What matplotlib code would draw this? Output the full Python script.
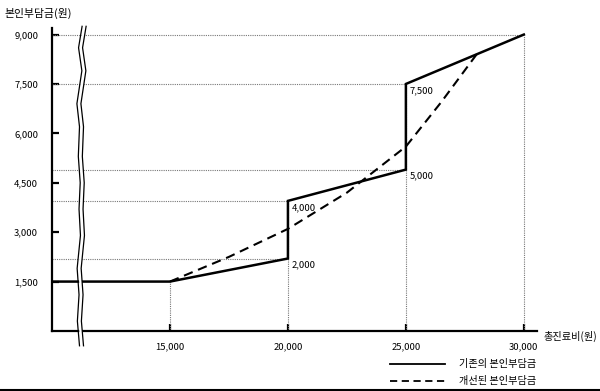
import numpy as np
import matplotlib
matplotlib.use("Agg")
import matplotlib.pyplot as plt
from matplotlib.lines import Line2D

plt.rcParams['font.family'] = ['Noto Sans CJK KR', 'DejaVu Sans']

# current co-payment (solid)
old_x = [10000, 15000, 20000, 20000, 25000, 25000, 30000]
old_y = [1500, 1500, 2200, 3950, 4900, 7500, 9000]
# improved co-payment (dashed)
new_x = [15000, 17500, 20000, 22500, 25000, 26500, 28000]
new_y = [1500, 2250, 3100, 4200, 5600, 6950, 8400]

yticks = [1500, 3000, 4500, 6000, 7500, 9000]
xticks = [15000, 20000, 25000, 30000]
# guide lines: (x of point, y of point)
hguides = [(30000, 9000), (25000, 7500), (25000, 4900), (20000, 3950), (20000, 2200)]
vguides = [(15000, 1500), (20000, 3950), (25000, 7500), (30000, 9000)]
point_labels = [(20000, 2200, "2,000"), (20000, 3950, "4,000"),
                (25000, 4900, "5,000"), (25000, 7500, "7,500")]

fig = plt.figure(figsize=(6, 3.91), dpi=100)
ax = fig.add_axes([0.0867, 0.1535, 0.808, 0.775])

for x, y in hguides:
    ax.plot([10000, x], [y, y], ls=(0, (1, 1)), color='#777777', lw=0.8)
for x, y in vguides:
    ax.plot([x, x], [0, y], ls=(0, (1, 1)), color='#777777', lw=0.8)

ax.plot(old_x, old_y, color='black', lw=1.8, solid_joinstyle='miter')
ax.plot(new_x, new_y, color='black', lw=1.5, ls=(0, (4.5, 2.8)))

for x, y, s in point_labels:
    ax.text(x + 150, y - 60, s, fontsize=6.8, va='top', ha='left')

ax.set_xlim(10000, 30550)
ax.set_ylim(0, 9200)
for side in ['top', 'right']:
    ax.spines[side].set_visible(False)
for side in ['left', 'bottom']:
    ax.spines[side].set_linewidth(1.6)
ax.set_xticks(xticks)
ax.set_xticklabels([f"{v:,}" for v in xticks])
ax.set_yticks(yticks)
ax.set_yticklabels([f"{v:,}" for v in yticks])
ax.tick_params(direction='in', length=5, width=1.6, labelsize=6.8, pad=8)
ax.tick_params(axis='y', pad=10)

# axis break symbol
zz_y = np.array([9250, 8600, 7900, 6900, 6200, 5300, 4500, 3700, 2900, 1900, 1100, 300, -450])
zz_dx = np.array([110, -40, 100, -110, 0, -50, 30, -20, 40, -100, -20, -90, 0])
base = 11250
ax.fill_betweenx(zz_y, base + zz_dx - 60, base + zz_dx + 60, color='white',
                 zorder=5, clip_on=False, lw=0)
ax.plot(base + zz_dx - 85, zz_y, color='black', lw=0.9, zorder=6, clip_on=False)
ax.plot(base + zz_dx + 85, zz_y, color='black', lw=0.9, zorder=6, clip_on=False)

fig.text(0.008, 0.965, "본인부담금(원)", fontsize=7.8, va='center', ha='left')
fig.text(0.905, 0.14, "총진료비(원)", fontsize=7.3, va='center', ha='left')

# legend
fig.add_artist(Line2D([0.65, 0.742], [0.069, 0.069], color='black', lw=1.3))
fig.add_artist(Line2D([0.65, 0.742], [0.026, 0.026], color='black', lw=1.3,
                      ls=(0, (4, 2.5))))
fig.text(0.765, 0.069, "기존의 본인부담금", fontsize=7.3, va='center', ha='left')
fig.text(0.765, 0.026, "개선된 본인부담금", fontsize=7.3, va='center', ha='left')
fig.add_artist(Line2D([0, 1], [0.002, 0.002], color='black', lw=1.5))

fig.savefig("out.png", dpi=100)
